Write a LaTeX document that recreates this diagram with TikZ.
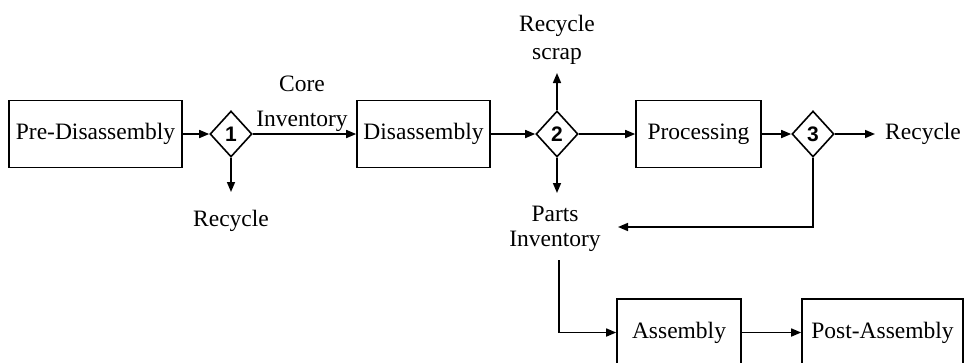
\documentclass[tikz,border=0pt]{standalone}
\usepackage{fontspec}
\setmainfont{Liberation Serif}
\newfontfamily\digitfont{Liberation Sans}
\usetikzlibrary{arrows.meta,shapes.geometric}
\begin{document}
\begin{tikzpicture}[x=1pt,y=-1pt,
  every node/.style={font=\fontsize{23.5}{26}\selectfont},
  box/.style={draw,line width=1.6pt,rectangle,minimum height=67pt,inner sep=0pt},
  dia/.style={draw,line width=1.6pt,diamond,minimum width=42pt,minimum height=46pt,inner sep=0pt,font=\digitfont\bfseries\fontsize{21}{21}\selectfont},
  lbl/.style={align=center,inner sep=0pt},
  flow/.style={line width=1.6pt,-{Triangle[length=10pt,width=8pt]}},
  plain/.style={line width=1.6pt}]
\clip (0,0) rectangle (964,362);
\fill[white] (0,0) rectangle (964,362);
% boxes
\node[box,minimum width=173pt] (pre) at (95.5,134) {Pre-Disassembly};
\node[box,minimum width=133pt] (dis) at (423.5,134) {Disassembly};
\node[box,minimum width=125pt] (proc) at (698.5,134) {Processing};
\node[box,minimum width=124pt] (asm) at (679,332.5) {Assembly};
\node[box,minimum width=161pt] (post) at (882.5,332.5) {Post-Assembly};
% diamonds
\node[dia] (d1) at (231,134) {1};
\node[dia] (d2) at (557,134) {2};
\node[dia] (d3) at (813,134) {3};
% labels
\node[lbl,font=\fontsize{23.5}{35}\selectfont] (core) at (302,104) {Core\\Inventory};
\node[lbl] (rec1) at (231,221) {Recycle};
\node[lbl,font=\fontsize{23.5}{28}\selectfont] (scrap) at (557,40) {Recycle\\scrap};
\node[lbl,font=\fontsize{23.5}{25}\selectfont] (parts) at (555,229) {Parts\\Inventory};
\node[lbl,anchor=west] (rec3) at (885,134) {Recycle};
% coordinates
\coordinate (r1) at (231,192);
\coordinate (rs) at (557,73);
\coordinate (pi) at (557,193);
\coordinate (loopend) at (618,227);
\coordinate (ptop) at (559,260);
\coordinate (r3) at (875,134);
% connectors
\draw[flow] (pre) -- (d1);
\draw[flow] (d1) -- (dis);
\draw[flow] (d1.south) -- (r1);
\draw[flow] (dis) -- (d2);
\draw[flow] (d2.north) -- (rs);
\draw[flow] (d2.south) -- (pi);
\draw[flow] (d2) -- (proc);
\draw[flow] (proc) -- (d3);
\draw[flow] (d3.east) -- (r3);
\draw[flow] (d3.south) |- (loopend);
\draw[flow] (ptop) |- (asm.west);
\draw[flow] (asm) -- (post);
\end{tikzpicture}
\end{document}
